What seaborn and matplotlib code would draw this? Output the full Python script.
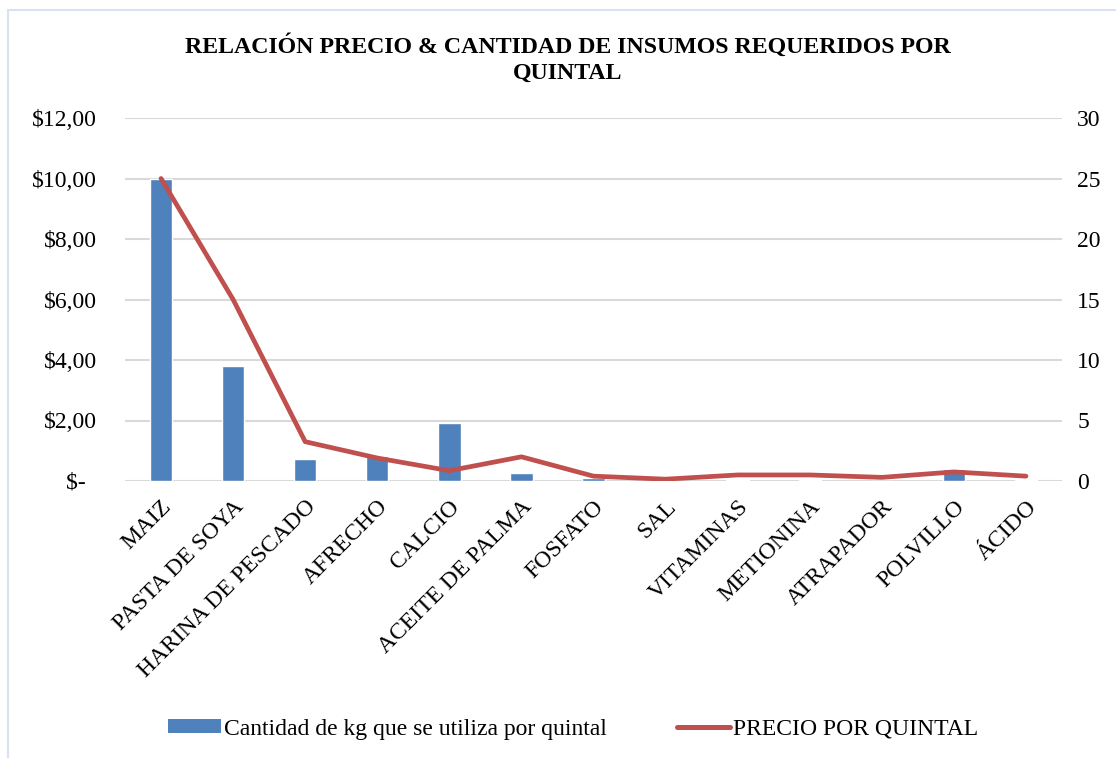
import numpy as np
import pandas as pd
import matplotlib
matplotlib.use("Agg")
import matplotlib.pyplot as plt
import seaborn as sns
from matplotlib.patches import Rectangle, Patch
from matplotlib.lines import Line2D

categories = ["MAIZ", "PASTA DE SOYA", "HARINA DE PESCADO", "AFRECHO", "CALCIO",
              "ACEITE DE PALMA", "FOSFATO", "SAL", "VITAMINAS", "METIONINA",
              "ATRAPADOR", "POLVILLO", "ÁCIDO"]
bar_values = [10.0, 3.81, 0.72, 0.83, 1.91, 0.27, 0.10, 0.02, 0.03, 0.02, 0.01, 0.40, 0.02]
line_values = [25.0, 15.0, 3.25, 1.9, 0.85, 2.0, 0.4, 0.15, 0.5, 0.5, 0.3, 0.75, 0.4]
left_ticks = [0, 2, 4, 6, 8, 10, 12]
right_ticks = [0, 5, 10, 15, 20, 25, 30]
bar_label = "Cantidad de kg que se utiliza por quintal"
line_label = "PRECIO POR QUINTAL"
title = "RELACIÓN PRECIO & CANTIDAD DE INSUMOS REQUERIDOS POR\nQUINTAL"

sns.set_style("white")
plt.rcParams['font.family'] = ['Liberation Serif', 'DejaVu Serif']
plt.rcParams['text.color'] = 'black'
plt.rcParams['xtick.color'] = 'black'
plt.rcParams['ytick.color'] = 'black'
plt.rcParams['axes.labelcolor'] = 'black'

BAR_COLOR = "#4f81bd"
LINE_COLOR = "#c0504d"
GRID_COLOR = "#d9d9d9"

fig = plt.figure(figsize=(11.16, 7.58), dpi=100)
W, H = 1116, 758
# chart border (light blue)
fig.patches.append(Rectangle((8 / W, -0.1), 1.2, (1 - 10 / H) + 0.1, transform=fig.transFigure,
                             fill=False, edgecolor="#d9e2f3", linewidth=1.5))

ax = fig.add_axes([125 / W, 1 - 481 / H, (1062 - 125) / W, (481 - 118) / H])
df = pd.DataFrame({"cat": categories, "bar": bar_values, "line": line_values})
sns.barplot(data=df, x="cat", y="bar", color=BAR_COLOR, width=0.31, saturation=1,
            ax=ax, zorder=2)
ax.set_ylim(0, 12)
ax.set_xlim(-0.5, len(categories) - 0.5)
ax.set_yticks(left_ticks)
ax.set_yticklabels([("$" + f"{v:.2f}".replace(".", ",")) if v != 0 else "$-  " for v in left_ticks])
ax.yaxis.grid(True, color=GRID_COLOR, linewidth=1.5, zorder=0)
ax.set_axisbelow(True)
for s in ax.spines.values():
    s.set_visible(False)
ax.set_xlabel("")
ax.set_ylabel("")
ax.tick_params(axis="y", length=0, pad=20, labelsize=17, labelcolor="black")
ax.tick_params(axis="x", length=0, pad=11, labelsize=17, labelcolor="black")
ax.set_xticks(range(len(categories)))
ax.set_xticklabels(categories, rotation=45, ha="right", rotation_mode="anchor")

ax2 = ax.twinx()
sns.lineplot(x=np.arange(len(categories)), y=line_values, color=LINE_COLOR, linewidth=3.4,
             ax=ax2, solid_capstyle="round", solid_joinstyle="round")
ax2.set_ylim(0, 30)
ax2.set_yticks(right_ticks)
ax2.set_yticklabels([str(v) for v in right_ticks])
ax2.tick_params(axis="y", length=0, pad=11, labelsize=17, labelcolor="black")
for s in ax2.spines.values():
    s.set_visible(False)
ax2.set_ylabel("")
ax2.grid(False)

fig.text(568 / W, 1 - 59 / H, title, ha="center", va="center", fontsize=17.2,
         fontweight="bold", linespacing=1.3, color="black")

handles = [Patch(facecolor=BAR_COLOR, edgecolor="none"),
           Line2D([0], [0], color=LINE_COLOR, linewidth=3.6, solid_capstyle="round")]
fig.legend(handles, [bar_label, line_label], loc="center", bbox_to_anchor=(573 / W, 1 - 729 / H),
           ncol=2, frameon=False, fontsize=17, handlelength=2.25, handletextpad=0.15,
           columnspacing=2.95, handleheight=0.5, labelcolor="black")

fig.savefig("out.png", dpi=100)
